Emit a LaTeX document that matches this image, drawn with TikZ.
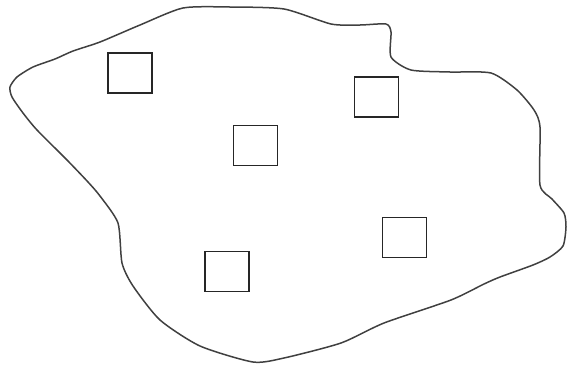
\documentclass[tikz,border=0pt]{standalone}
\begin{document}
\begin{tikzpicture}[x=1pt,y=-1pt,
  box/.style={draw=black!85,line width=1.4pt,minimum width=44pt,minimum height=40pt,inner sep=0pt,fill=white},
  outline/.style={draw=black!75,line width=1.5pt,line join=round}]
\useasboundingbox (0,0) rectangle (568,365);
\draw[outline] plot[smooth cycle,tension=0.4] coordinates {
 (10,87) (17,77) (33,67) (55,59) (73,51) (100,42) (140,25) (183,8) (230,7) (284,9)
 (331,24) (360,25) (386,24) (391,32) (391,57) (411,70) (450,72) (491,73)
 (517,90) (534,110) (540,127) (540,185) (552,199) (564,213) (566,227)
 (563,246) (550,257) (533,265) (500,277) (484,284) (451,300) (384,323) (341,343)
 (284,358) (253,362) (200,346) (160,320) (133,286) (122,263) (118,223) (100,196)
 (88,182) (67,160) (37,130) (23,113) (12,97)};
\node[box] (b1) at (130,73) {};
\node[box] (b2) at (255.5,145.5) {};
\node[box] (b3) at (376.5,97) {};
\node[box] (b4) at (227,271.5) {};
\node[box] (b5) at (404.5,237.5) {};
\end{tikzpicture}
\end{document}
